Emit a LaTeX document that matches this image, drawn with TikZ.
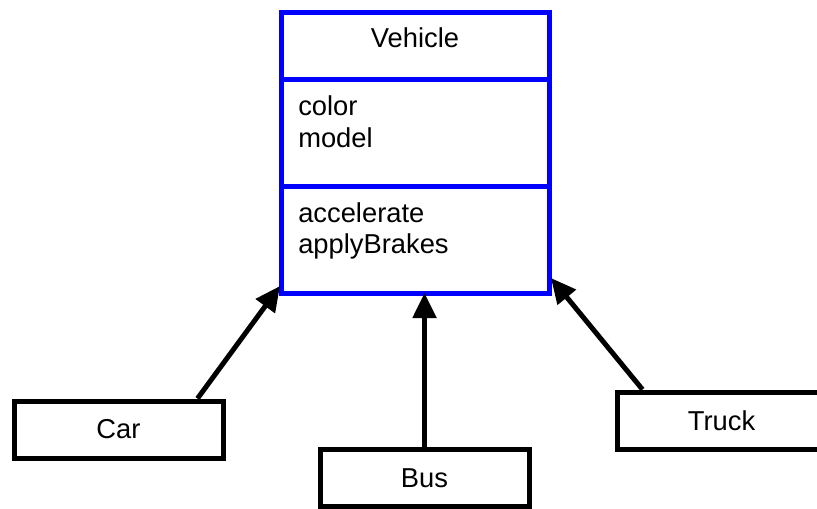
\documentclass[tikz,border=0pt]{standalone}
\usepackage{fontspec}
\setmainfont{Liberation Sans}
\usetikzlibrary{positioning,calc,arrows.meta}

\begin{document}
\begin{tikzpicture}[x=0.75pt,y=-0.75pt, every node/.style={font=\fontsize{20.5}{24}\selectfont},
  part/.style={draw=blue,line width=3.75pt,minimum width=201pt,outer sep=0pt,inner sep=0pt},
  child/.style={draw,line width=3.75pt,minimum width=156.75pt,minimum height=42.75pt},
  member/.style={anchor=base west,inner sep=0pt},
  inherit/.style={-{Triangle[length=18.75pt,width=17.25pt]},line width=3.75pt}]
\useasboundingbox (0,0) rectangle (817,508);
% class box
\node[part,minimum height=50.25pt,anchor=north west] (head) at (281,12) {};
\node[part,minimum height=80.25pt,below=0pt of head] (attrs) {};
\node[part,minimum height=80.25pt,below=0pt of attrs] (ops) {};
\node[anchor=base,inner sep=0pt] (vname) at (415,47) {Vehicle};
\node[member] (color) at (298,115) {color};
\node[member] (model) at (298,147) {model};
\node[member] (accel) at (298,222) {accelerate};
\node[member] (brakes) at (298,253) {applyBrakes};
% subclasses
\node[child] (car) at (118.5,429.5) {Car};
\node[child] (bus) at (424.5,478) {Bus};
\node[child] (truck) at (721.5,420.5) {Truck};
\draw[inherit] ($(car.north east)+(-28,0)$) -- ($(ops.south west)+(-1,-7)$);
\draw[inherit] (bus.north) -- (bus.north |- ops.south);
\draw[inherit] ($(truck.north west)+(28,0)$) -- ($(ops.south east)+(2,-15)$);
\end{tikzpicture}
\end{document}
